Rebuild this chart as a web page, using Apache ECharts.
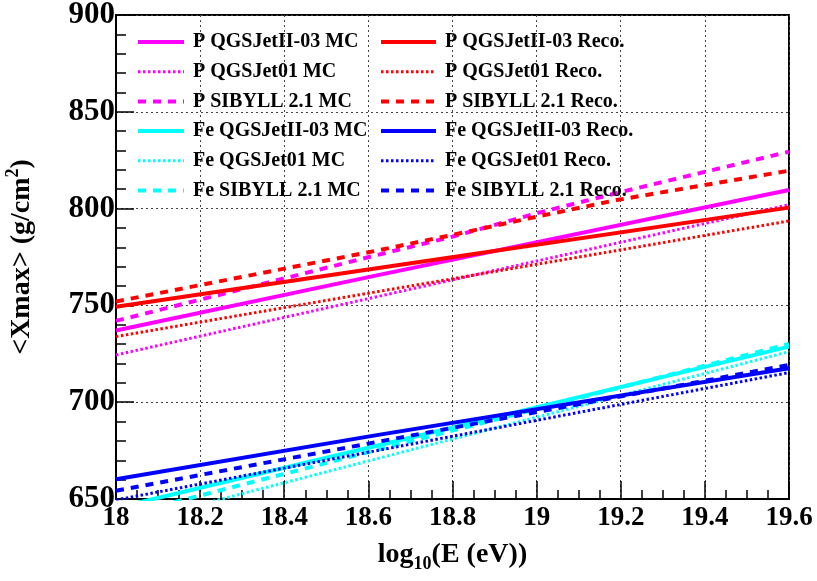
<html lang="en">
<head>
	<meta charset="UTF-8">
	<script src="https://cdn.jsdelivr.net/npm/echarts@6.0.0/dist/echarts.min.js"></script>
	<title>Xmax vs energy</title>
</head>
<body style="margin:0;background:#fff">
<div id="pic" style="width:817px;height:581px"></div>
<script>
	"use strict";

	// values, [log10(E), <Xmax>]
	const pQ2Mc=[[18,737.0],[18.62,765.5],[19.6,809.6]];
	const pQ1Mc=[[18,724.4],[19.6,802.0]];
	const pSibMc=[[18,742.0],[18.62,776.0],[18.8,785.5],[19.0,797.6],[19.19,808.0],[19.6,829.4]];
	const pQ2Rec=[[18,749.3],[18.62,769.2],[19.6,800.5]];
	const pQ1Rec=[[18,733.9],[19.6,793.6]];
	const pSibRec=[[18,752.0],[18.62,778.3],[18.8,786.4],[19.0,795.8],[19.19,804.4],[19.6,819.6]];
	const feQ2Mc=[[18,645.4],[18.62,677.5],[19.6,728.7]];
	const feQ1Mc=[[18,635.8],[19.6,726.1]];
	const feSibMc=[[18,640.6],[19.6,730.1]];
	const feQ2Rec=[[18,660.2],[18.62,683.0],[19.6,717.5]];
	const feQ1Rec=[[18,649.5],[19.6,715.3]];
	const feSibRec=[[18,654.3],[19.6,719.2]];

	const leftNames=["P QGSJetII-03 MC","P QGSJet01 MC","P SIBYLL 2.1 MC","Fe QGSJetII-03 MC","Fe QGSJet01 MC","Fe SIBYLL 2.1 MC"];
	const rightNames=["P QGSJetII-03 Reco.","P QGSJet01 Reco.","P SIBYLL 2.1 Reco.","Fe QGSJetII-03 Reco.","Fe QGSJet01 Reco.","Fe SIBYLL 2.1 Reco."];

	const font="'Liberation Serif', 'Times New Roman', serif";
	const solid={type:"solid",width:4};
	const dash={type:[8,7],width:4};
	const dot={type:[2.5,2.5],width:3};

	function ln(name,data,color,st)
	{
		return {
			name:name,type:"line",data:data,symbol:"none",clip:true,
			lineStyle:{color:color,width:st.width,type:st.type},
			itemStyle:{color:color},
			emphasis:{disabled:true}
		};
	}

	function leg(names,x,w)
	{
		return {
			data:names,orient:"vertical",left:x,top:32,padding:0,
			itemWidth:w,itemHeight:20,itemGap:9.7,
			lineStyle:{width:"inherit"},
			itemStyle:{opacity:0},
			textStyle:{fontFamily:font,fontWeight:"bold",fontSize:20,color:"#000",padding:[0,0,0,4]},
			selectedMode:false
		};
	}

	let pic=echarts.init(document.getElementById("pic"));
	let option=
		{
			animation:false,
			backgroundColor:"#fff",
			grid:{left:116,right:28,top:15,bottom:82,outerBoundsMode:"none",containLabel:false,
				show:true,borderColor:"#000",borderWidth:2,backgroundColor:"transparent"},
			legend:[leg(leftNames,136,46),leg(rightNames,379,55)],
			xAxis:{
				type:"value",min:18,max:19.6,interval:0.2,
				name:"{a|log}{s|10}{a|(E (eV))}",nameLocation:"middle",nameGap:38,
				nameTextStyle:{
					rich:{
						a:{fontFamily:font,fontWeight:"bold",fontSize:28,lineHeight:36,color:"#000"},
						s:{fontFamily:font,fontWeight:"bold",fontSize:18,lineHeight:36,verticalAlign:"bottom",color:"#000"}
					}
				},
				axisLine:{lineStyle:{color:"#000",width:2}},
				axisTick:{inside:true,length:18,lineStyle:{color:"#000",width:1.5}},
				minorTick:{show:true,splitNumber:4,length:9,lineStyle:{color:"#000",width:1.5}},
				axisLabel:{fontFamily:font,fontWeight:"bold",fontSize:27,color:"#000",margin:6},
				splitLine:{show:true,lineStyle:{color:"#444",type:[2,3],width:1}}
			},
			yAxis:{
				type:"value",min:650,max:900,interval:50,
				name:"{a|<Xmax> (g/cm}{p|2}{a|)}",nameLocation:"middle",nameGap:76,
				nameTextStyle:{
					rich:{
						a:{fontFamily:font,fontWeight:"bold",fontSize:28,lineHeight:36,color:"#000"},
						p:{fontFamily:font,fontWeight:"bold",fontSize:18,lineHeight:36,verticalAlign:"top",color:"#000"}
					}
				},
				axisLine:{show:true,lineStyle:{color:"#000",width:2}},
				axisTick:{show:true,inside:true,length:18,lineStyle:{color:"#000",width:1.5}},
				minorTick:{show:true,splitNumber:5,length:10,lineStyle:{color:"#000",width:1.5}},
				axisLabel:{fontFamily:font,fontWeight:"bold",fontSize:31,color:"#000",margin:1},
				splitLine:{show:true,lineStyle:{color:"#444",type:[2,3],width:1}}
			},
			series:[
				ln(leftNames[0],pQ2Mc,"#ff00ff",solid),
				ln(leftNames[1],pQ1Mc,"#ff00ff",dot),
				ln(leftNames[2],pSibMc,"#ff00ff",dash),
				ln(leftNames[3],feQ2Mc,"#00ffff",solid),
				ln(leftNames[4],feQ1Mc,"#00ffff",dot),
				ln(leftNames[5],feSibMc,"#00ffff",dash),
				ln(rightNames[0],pQ2Rec,"#ff0000",solid),
				ln(rightNames[1],pQ1Rec,"#ff0000",dot),
				ln(rightNames[2],pSibRec,"#ff0000",dash),
				ln(rightNames[3],feQ2Rec,"#0000ff",solid),
				ln(rightNames[4],feQ1Rec,"#0000ff",dot),
				ln(rightNames[5],feSibRec,"#0000ff",dash)
			]
		};
	pic.setOption(option);
</script>
</body>
</html>
